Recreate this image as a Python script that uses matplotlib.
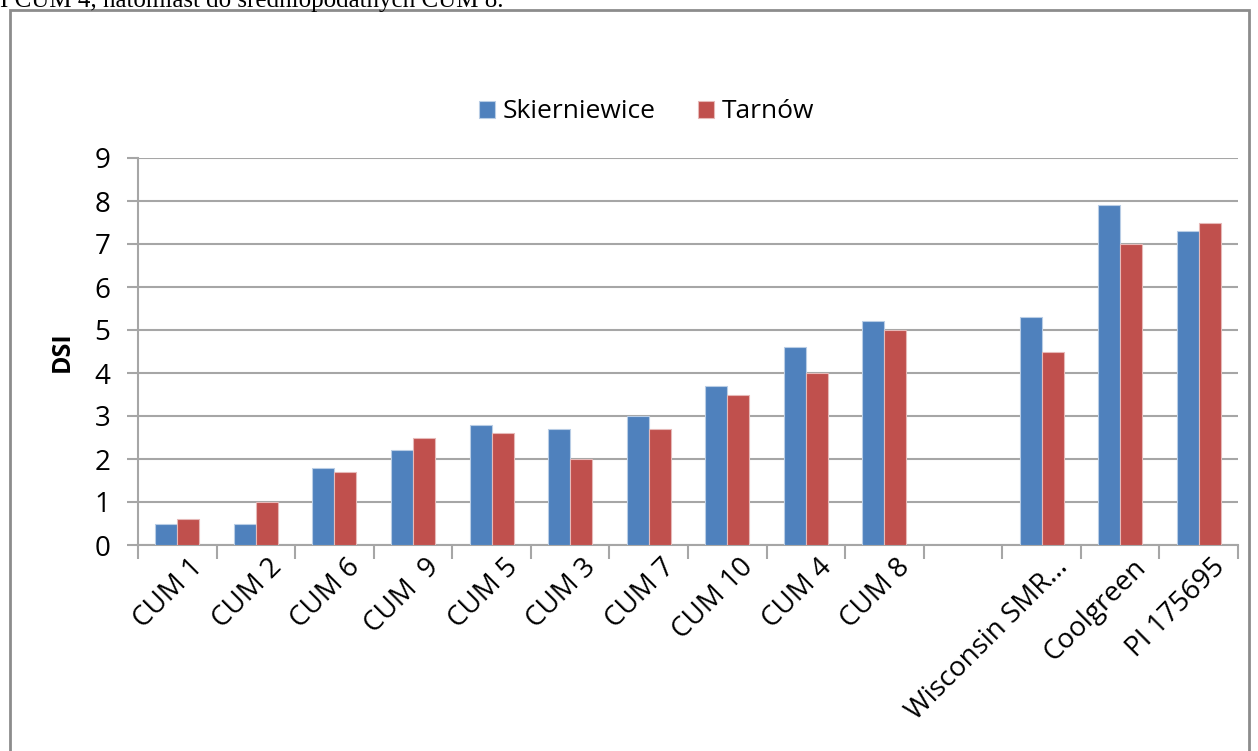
import numpy as np
import matplotlib.pyplot as plt
import matplotlib.transforms as mtransforms
from matplotlib.patches import Rectangle

categories = ["CUM 1", "CUM 2", "CUM 6", "CUM  9", "CUM 5", "CUM 3", "CUM 7",
              "CUM 10", "CUM 4", "CUM 8", "", "Wisconsin SMR...", "Coolgreen", "PI 175695"]
skierniewice = [0.5, 0.5, 1.8, 2.2, 2.8, 2.7, 3.0, 3.7, 4.6, 5.2, np.nan, 5.3, 7.9, 7.3]
tarnow = [0.6, 1.0, 1.7, 2.5, 2.6, 2.0, 2.7, 3.5, 4.0, 5.0, np.nan, 4.5, 7.0, 7.5]

plt.rcParams['font.family'] = ['Open Sans', 'DejaVu Sans']

fig = plt.figure(figsize=(12.58, 7.51), dpi=100)

# text line of the page above the chart (cut off)
fig.text(0.0, 1 - 7 / 751, "I CUM 4, natomiast do średniopodatnych CUM 8.",
         family='Liberation Serif', fontsize=18, va='baseline', ha='left')
# chart frame
fig.patches.append(Rectangle((10 / 1258, -0.05), 1239 / 1258, 1 - 10 / 751 + 0.05,
                             transform=fig.transFigure, fill=False,
                             edgecolor='#8c8c8c', linewidth=2))

ax = fig.add_axes([138 / 1258, 1 - 545 / 751, 1100 / 1258, 387 / 751])
x = np.arange(len(categories))
w = 0.28
ax.bar(x - w / 2, skierniewice, w, color='#4F81BD', edgecolor='#b9cde5', linewidth=0.8,
       label='Skierniewice', zorder=3)
ax.bar(x + w / 2, tarnow, w, color='#C0504D', edgecolor='#e6b9b8', linewidth=0.8,
       label='Tarnów', zorder=3)

ax.set_xlim(-0.5, len(categories) - 0.5)
ax.set_ylim(0, 9)
ax.set_yticks(range(0, 10))
ax.yaxis.grid(True, color='#a6a6a6', linewidth=1.5, zorder=0)
ax.tick_params(axis='y', length=8, width=1.5, color='#a6a6a6', labelsize=20, pad=12)
for s in ['top', 'right']:
    ax.spines[s].set_visible(False)
for s in ['left', 'bottom']:
    ax.spines[s].set_color('#a6a6a6')
    ax.spines[s].set_linewidth(1.5)

ax.set_xticks(np.arange(-0.5, len(categories)), minor=True)
ax.tick_params(axis='x', which='minor', length=10, width=1.5, color='#a6a6a6')
ax.set_xticks(x)
ax.set_xticklabels(categories, rotation=45, ha='right', rotation_mode='anchor', fontsize=20)
ax.tick_params(axis='x', which='major', length=0, pad=6)
shift = mtransforms.ScaledTranslation(12 / 100, 0, fig.dpi_scale_trans)
for lbl in ax.get_xticklabels():
    lbl.set_transform(lbl.get_transform() + shift)

ax.set_ylabel("DSI", fontsize=18, fontweight='bold', labelpad=14)

fig.legend(loc='center', bbox_to_anchor=(0.514, 1 - 112 / 751), ncol=2, frameon=False,
           fontsize=19, handlelength=0.6, handleheight=0.6, columnspacing=1.6,
           handletextpad=0.3)

fig.savefig("out.png", dpi=100)
